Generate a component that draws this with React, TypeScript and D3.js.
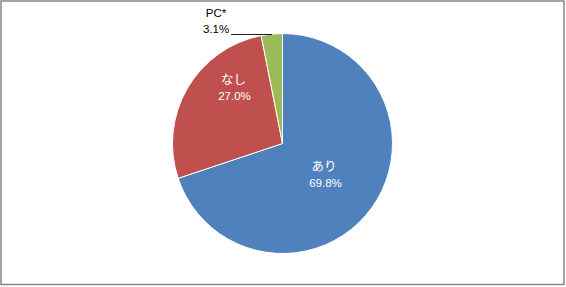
import React from "react";
import * as d3 from "d3";

const categories = ["あり", "なし", "PC*"];
const values = [69.8, 27.0, 3.1];
const percentLabels = ["69.8%", "27.0%", "3.1%"];
const colors = ["#4F81BD", "#C0504D", "#9BBB59"];

const W = 566;
const H = 287;
const cx = 282.5;
const cy = 143.5;
const R = 110;

// label anchor positions (layout, not data)
const labelPos: [number, number][] = [
  [324, 165],
  [233.5, 78],
  [216, 12.5],
];
const labelFill = ["#ffffff", "#ffffff", "#000000"];

export default function App() {
  const pie = d3
    .pie<number>()
    .sort(null)
    .value((d) => d);
  const arcs = pie(values);
  const arc = d3.arc<d3.PieArcDatum<number>>().innerRadius(0).outerRadius(R);

  const jp = "'Noto Sans CJK JP', 'Noto Sans', sans-serif";
  const num = "'Liberation Sans', Arial, sans-serif";

  return (
    <svg
      width={W}
      height={H}
      style={{ position: "absolute", left: 0, top: 0, background: "#fff" }}
    >
      <rect x={1} y={1} width={563} height={283.5} fill="#fff" stroke="#858585" strokeWidth={1.5} />
      <g transform={`translate(${cx},${cy})`}>
        {arcs.map((a, i) => (
          <path key={i} d={arc(a) || ""} fill={colors[i]} stroke="#fff" strokeWidth={1} />
        ))}
      </g>
      {/* leader line for small slice */}
      <line x1={231} y1={34.5} x2={272} y2={34.5} stroke="#222" strokeWidth={1} />
      {categories.map((c, i) => (
        <g key={c}>
          <text
            x={labelPos[i][0]}
            y={labelPos[i][1]}
            textAnchor="middle"
            dominantBaseline="central"
            fill={labelFill[i]}
            fontFamily={i === 2 ? num : jp}
            fontSize={i === 2 ? 11.5 : 12.5}
          >
            {c}
          </text>
          <text
            x={labelPos[i][0] + (i === 0 ? 1.5 : i === 1 ? 1 : 0)}
            y={labelPos[i][1] + (i === 2 ? 16.5 : 18)}
            textAnchor="middle"
            dominantBaseline="central"
            fill={labelFill[i]}
            fontFamily={num}
            fontSize={11.5}
          >
            {percentLabels[i]}
          </text>
        </g>
      ))}
    </svg>
  );
}
